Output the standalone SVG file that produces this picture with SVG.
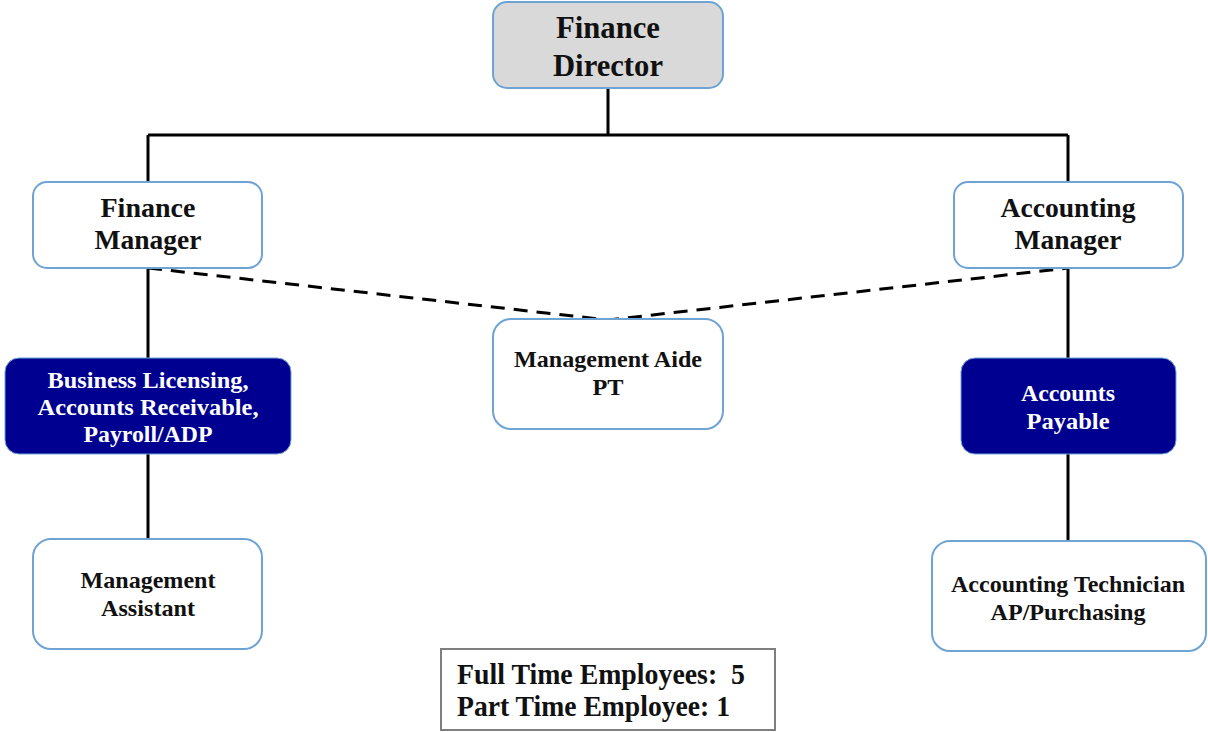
<svg xmlns="http://www.w3.org/2000/svg" width="1208" height="732" viewBox="0 0 1208 732">
<style>
.box{fill:#ffffff;stroke:#6fa3d4;stroke-width:2}
.dir{fill:#d9d9d9;stroke:#6fa3d4;stroke-width:2}
.navy{fill:#000090;stroke:#6fa3d4;stroke-width:1}
.t{font-family:"Liberation Serif","Times New Roman",serif;font-weight:bold;text-anchor:middle;fill:#111}
.s{text-anchor:start}
.w{fill:#ffffff}
.ln{stroke:#000;stroke-width:3;fill:none}
.dash{stroke:#000;stroke-width:3;fill:none;stroke-dasharray:14 9}
</style>
<rect width="1208" height="732" fill="#ffffff"/>
<g id="connectors">
<path class="ln" d="M608 88V135M148 135H1068M148 135V182M1068 135V182"/>
<path class="ln" d="M148 268V358M148 454V539"/>
<path class="ln" d="M1068 268V358M1068 454V541"/>
<path class="dash" d="M148 268L608 320L1068 268"/>
</g>
<g id="finance-director">
<rect class="dir" x="493" y="2" width="230" height="86" rx="14"/>
<text class="t" x="608" y="38" font-size="31" textLength="104" lengthAdjust="spacingAndGlyphs">Finance</text>
<text class="t" x="608" y="76" font-size="31" textLength="110" lengthAdjust="spacingAndGlyphs">Director</text>
</g>
<g id="finance-manager">
<rect class="box" x="33" y="182" width="229" height="86" rx="14"/>
<text class="t" x="148" y="217" font-size="28" textLength="95" lengthAdjust="spacingAndGlyphs">Finance</text>
<text class="t" x="148" y="249" font-size="28" textLength="107" lengthAdjust="spacingAndGlyphs">Manager</text>
</g>
<g id="accounting-manager">
<rect class="box" x="954" y="182" width="229" height="86" rx="14"/>
<text class="t" x="1068" y="217" font-size="28" textLength="135" lengthAdjust="spacingAndGlyphs">Accounting</text>
<text class="t" x="1068" y="249" font-size="28" textLength="107" lengthAdjust="spacingAndGlyphs">Manager</text>
</g>
<g id="management-aide">
<rect class="box" x="493" y="319" width="230" height="110" rx="18"/>
<text class="t" x="608" y="367" font-size="24" textLength="188" lengthAdjust="spacingAndGlyphs">Management Aide</text>
<text class="t" x="608" y="395" font-size="24" textLength="31" lengthAdjust="spacingAndGlyphs">PT</text>
</g>
<g id="business-licensing">
<rect class="navy" x="5" y="358" width="286" height="96" rx="14"/>
<text class="t w" x="148" y="388" font-size="24" textLength="201" lengthAdjust="spacingAndGlyphs">Business Licensing,</text>
<text class="t w" x="148" y="415" font-size="24" textLength="221" lengthAdjust="spacingAndGlyphs">Accounts Receivable,</text>
<text class="t w" x="148" y="442" font-size="24" textLength="129" lengthAdjust="spacingAndGlyphs">Payroll/ADP</text>
</g>
<g id="accounts-payable">
<rect class="navy" x="961" y="358" width="215" height="96" rx="14"/>
<text class="t w" x="1068" y="401" font-size="24" textLength="94" lengthAdjust="spacingAndGlyphs">Accounts</text>
<text class="t w" x="1068" y="429" font-size="24" textLength="83" lengthAdjust="spacingAndGlyphs">Payable</text>
</g>
<g id="management-assistant">
<rect class="box" x="33" y="539" width="229" height="110" rx="18"/>
<text class="t" x="148" y="588" font-size="24" textLength="135" lengthAdjust="spacingAndGlyphs">Management</text>
<text class="t" x="148" y="616" font-size="24" textLength="94" lengthAdjust="spacingAndGlyphs">Assistant</text>
</g>
<g id="accounting-technician">
<rect class="box" x="932" y="541" width="274" height="110" rx="18"/>
<text class="t" x="1068" y="592" font-size="24" textLength="234" lengthAdjust="spacingAndGlyphs">Accounting Technician</text>
<text class="t" x="1068" y="620" font-size="24" textLength="155" lengthAdjust="spacingAndGlyphs">AP/Purchasing</text>
</g>
<g id="employee-count">
<rect x="441" y="649" width="334" height="81" fill="#ffffff" stroke="#7f7f7f" stroke-width="2"/>
<text class="t s" x="457" y="684" font-size="29" xml:space="preserve" textLength="288" lengthAdjust="spacingAndGlyphs">Full Time Employees:  5</text>
<text class="t s" x="457" y="716" font-size="29" textLength="273" lengthAdjust="spacingAndGlyphs">Part Time Employee: 1</text>
</g>
</svg>
